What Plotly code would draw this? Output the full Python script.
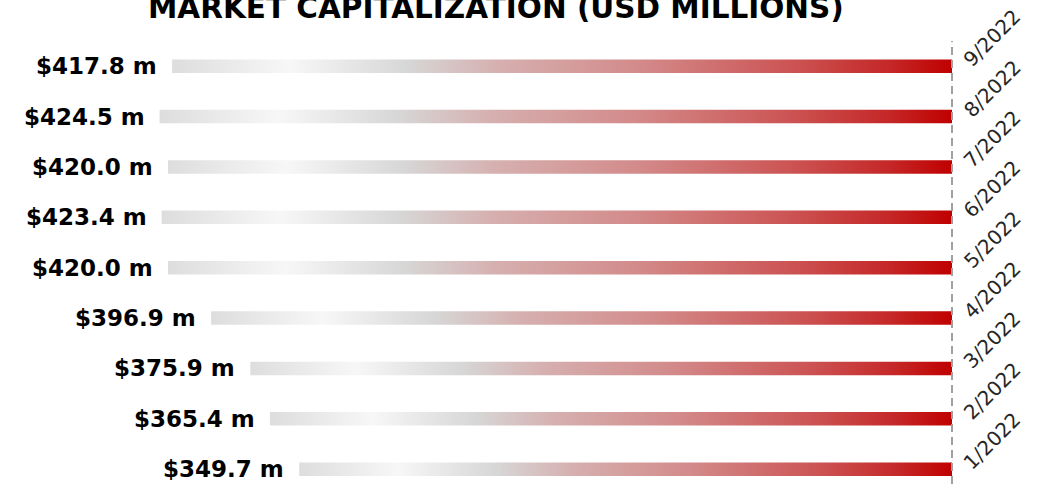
import plotly.graph_objects as go

# ---- data (bottom to top) ----
months = ["1/2022", "2/2022", "3/2022", "4/2022", "5/2022",
          "6/2022", "7/2022", "8/2022", "9/2022"]
values = [349.7, 365.4, 375.9, 396.9, 420.0, 423.4, 420.0, 424.5, 417.8]
value_labels = ["$349.7 m", "$365.4 m", "$375.9 m", "$396.9 m", "$420.0 m",
                "$423.4 m", "$420.0 m", "$424.5 m", "$417.8 m"]
title_text = "MARKET CAPITALIZATION (USD MILLIONS)"

# ---- style ----
gradient = [
    [0.00, "#dddddd"],
    [0.15, "#f7f7f7"],
    [0.30, "#d7d7d7"],
    [0.42, "#d6afaf"],
    [0.60, "#d38a8a"],
    [0.80, "#cc5252"],
    [0.92, "#c52727"],
    [1.00, "#c00000"],
]
half_h = 0.135

fig = go.Figure()
for i, v in enumerate(values):
    fig.add_trace(go.Scatter(
        x=[0, v, v, 0, 0],
        y=[i - half_h, i - half_h, i + half_h, i + half_h, i - half_h],
        mode="lines",
        fill="toself",
        line=dict(width=0, color="rgba(0,0,0,0)"),
        fillgradient=dict(type="horizontal", colorscale=gradient, start=v, stop=0),
        hoverinfo="skip",
        showlegend=False,
    ))

annotations = []
for i, (v, lab, m) in enumerate(zip(values, value_labels, months)):
    annotations.append(dict(
        x=v, y=i, xref="x", yref="y", text=lab, showarrow=False,
        xanchor="right", yanchor="middle", xshift=-13,
        font=dict(family="DejaVu Sans", size=23, color="#000000", weight="bold"),
    ))
    annotations.append(dict(
        x=0, y=i, xref="x", yref="y", text=m, showarrow=False,
        xanchor="center", yanchor="middle", xshift=40, yshift=28,
        textangle=-45,
        font=dict(family="DejaVu Sans", size=20, color="#262626"),
    ))
annotations.append(dict(
    x=0.5, y=1, xref="x domain", yref="paper", text=title_text,
    showarrow=False, xanchor="center", yanchor="middle", yshift=33,
    xshift=496 - 481,
    font=dict(family="DejaVu Sans", size=29.5, color="#000000", weight="bold"),
))

fig.update_layout(
    width=1048, height=485,
    margin=dict(l=0, r=86, t=41, b=1),
    paper_bgcolor="white", plot_bgcolor="white",
    xaxis=dict(range=[510, -5.357], visible=False, fixedrange=True),
    yaxis=dict(range=[-0.294, 8.5], visible=False, fixedrange=True),
    annotations=annotations,
    shapes=[dict(type="line", xref="x", yref="paper", x0=0, x1=0, y0=0, y1=1,
                 layer="above",
                 line=dict(color="#a0a0a0", width=2, dash="8px,5px"))],
)

fig.write_html(
    "out.html",
    config={"displayModeBar": False},
    post_script="document.body.style.margin='0';document.body.style.overflow='hidden';",
)
